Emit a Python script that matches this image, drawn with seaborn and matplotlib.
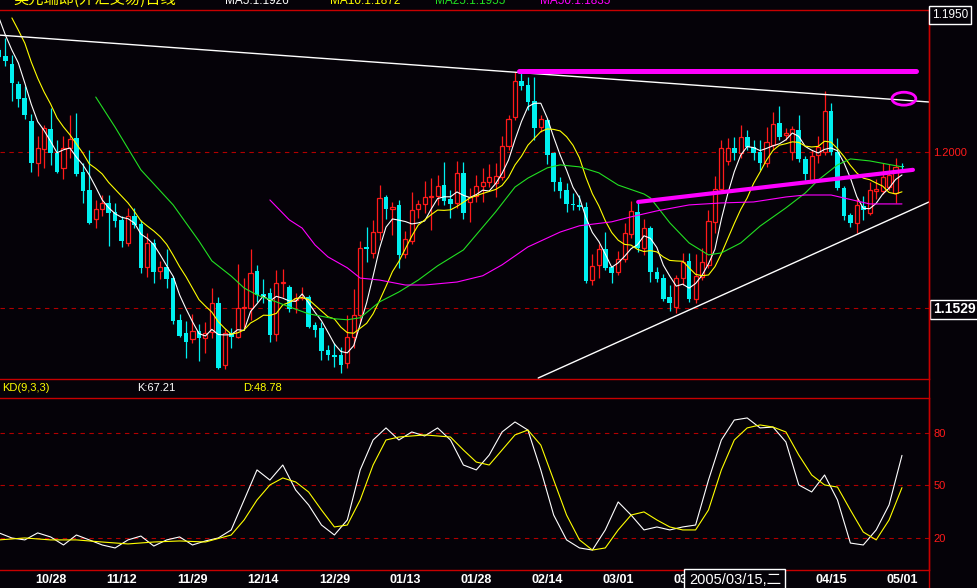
import numpy as np
import pandas as pd
import seaborn as sns
import matplotlib.pyplot as plt
from matplotlib.patches import Ellipse
from matplotlib.lines import Line2D

# USD/CHF daily bars, 2004-10-18 .. 2005-05-01
opens = [1.2308, 1.2290, 1.2266, 1.2205, 1.2163, 1.2094, 1.1967, 1.2009, 1.2069, 1.1997,
         1.1952, 1.2012, 1.2042, 1.1940, 1.1885, 1.1798, 1.1828, 1.1846, 1.1819, 1.1795,
         1.1725, 1.1807, 1.1783, 1.1653, 1.1725, 1.1641, 1.1653, 1.1619, 1.1493, 1.1453,
         1.1435, 1.1459, 1.1438, 1.1456, 1.1544, 1.1357, 1.1453, 1.1441, 1.1529, 1.1529,
         1.1641, 1.1571, 1.1574, 1.1450, 1.1604, 1.1592, 1.1553, 1.1559, 1.1562, 1.1477,
         1.1468, 1.1402, 1.1387, 1.1387, 1.1363, 1.1441, 1.1508, 1.1713, 1.1695, 1.1758,
         1.1864, 1.1828, 1.1840, 1.1692, 1.1731, 1.1828, 1.1843, 1.1864, 1.1867, 1.1900,
         1.1858, 1.1846, 1.1937, 1.1849, 1.1867, 1.1897, 1.1909, 1.1906, 1.1924, 1.2018,
         1.2106, 1.2214, 1.2202, 1.2154, 1.2076, 1.2097, 1.1997, 1.1909, 1.1885, 1.1843,
         1.1840, 1.1834, 1.1613, 1.1659, 1.1707, 1.1653, 1.1638, 1.1677, 1.1752, 1.1819,
         1.1710, 1.1770, 1.1638, 1.1619, 1.1562, 1.1532, 1.1619, 1.1671, 1.1556, 1.1623,
         1.1659, 1.1789, 1.1888, 1.1973, 1.2012, 1.1997, 1.2045, 1.2015, 1.2000, 1.1967,
         1.2021, 1.2088, 1.2051, 1.2000, 1.2066, 1.1979, 1.1912, 1.1991, 1.2000, 1.2124,
         1.2000, 1.1891, 1.1810, 1.1786, 1.1837, 1.1816, 1.1882, 1.1882, 1.1894, 1.1876,
         1.1958]
highs = [1.2314, 1.2344, 1.2293, 1.2214, 1.2199, 1.2115, 1.2048, 1.2082, 1.2133, 1.2036,
         1.2048, 1.2112, 1.2118, 1.1967, 1.2006, 1.1855, 1.1870, 1.1870, 1.1846, 1.1807,
         1.1831, 1.1831, 1.1795, 1.1755, 1.1737, 1.1671, 1.1707, 1.1626, 1.1511, 1.1490,
         1.1511, 1.1481, 1.1487, 1.1589, 1.1562, 1.1465, 1.1468, 1.1662, 1.1619, 1.1707,
         1.1659, 1.1616, 1.1589, 1.1644, 1.1647, 1.1598, 1.1574, 1.1592, 1.1568, 1.1487,
         1.1487, 1.1417, 1.1423, 1.1411, 1.1508, 1.1586, 1.1731, 1.1773, 1.1795, 1.1900,
         1.1870, 1.1849, 1.1855, 1.1761, 1.1879, 1.1855, 1.1912, 1.1921, 1.1931, 1.1970,
         1.1885, 1.1973, 1.1970, 1.1891, 1.1931, 1.1952, 1.1964, 1.1967, 1.2048, 1.2112,
         1.2242, 1.2242, 1.2226, 1.2226, 1.2112, 1.2103, 1.2000, 1.1924, 1.1906, 1.1876,
         1.1870, 1.1849, 1.1692, 1.1722, 1.1758, 1.1656, 1.1701, 1.1786, 1.1852, 1.1849,
         1.1798, 1.1777, 1.1653, 1.1632, 1.1598, 1.1629, 1.1695, 1.1695, 1.1692, 1.1710,
         1.1825, 1.1928, 1.2036, 1.2042, 1.2045, 1.2082, 1.2066, 1.2036, 1.2036, 1.2076,
         1.2121, 1.2139, 1.2072, 1.2079, 1.2112, 1.1988, 1.2006, 1.2048, 1.2184, 1.2148,
         1.2042, 1.1897, 1.1816, 1.1861, 1.1867, 1.1909, 1.1918, 1.1967, 1.1964, 1.1982,
         1.1967]
lows = [1.2284, 1.2260, 1.2154, 1.2136, 1.2100, 1.1940, 1.1928, 1.1952, 1.1961, 1.1937,
        1.1918, 1.1982, 1.1928, 1.1846, 1.1783, 1.1770, 1.1807, 1.1716, 1.1773, 1.1713,
        1.1716, 1.1770, 1.1635, 1.1623, 1.1604, 1.1616, 1.1589, 1.1481, 1.1441, 1.1378,
        1.1423, 1.1369, 1.1393, 1.1438, 1.1345, 1.1345, 1.1408, 1.1438, 1.1468, 1.1493,
        1.1547, 1.1544, 1.1426, 1.1429, 1.1562, 1.1517, 1.1514, 1.1553, 1.1468, 1.1441,
        1.1372, 1.1372, 1.1351, 1.1333, 1.1348, 1.1408, 1.1487, 1.1668, 1.1680, 1.1734,
        1.1798, 1.1749, 1.1650, 1.1680, 1.1722, 1.1801, 1.1816, 1.1764, 1.1840, 1.1840,
        1.1801, 1.1831, 1.1798, 1.1789, 1.1849, 1.1849, 1.1894, 1.1864, 1.1915, 1.2006,
        1.2097, 1.2187, 1.2127, 1.2036, 1.2060, 1.1964, 1.1882, 1.1861, 1.1819, 1.1825,
        1.1825, 1.1604, 1.1598, 1.1619, 1.1644, 1.1604, 1.1629, 1.1668, 1.1740, 1.1698,
        1.1689, 1.1607, 1.1607, 1.1550, 1.1520, 1.1514, 1.1598, 1.1547, 1.1544, 1.1613,
        1.1650, 1.1755, 1.1879, 1.1961, 1.1976, 1.1982, 1.2006, 1.1976, 1.1946, 1.1955,
        1.2006, 1.2036, 1.2036, 1.1976, 1.1970, 1.1915, 1.1906, 1.1967, 1.1991, 1.1991,
        1.1885, 1.1795, 1.1773, 1.1755, 1.1795, 1.1810, 1.1858, 1.1873, 1.1885, 1.1846,
        1.1946]
closes = [1.2287, 1.2275, 1.2208, 1.2160, 1.2112, 1.1967, 1.2012, 1.2072, 1.1997, 1.1940,
          1.2012, 1.2039, 1.1934, 1.1882, 1.1786, 1.1828, 1.1846, 1.1816, 1.1792, 1.1731,
          1.1807, 1.1780, 1.1650, 1.1725, 1.1638, 1.1653, 1.1616, 1.1490, 1.1444, 1.1426,
          1.1459, 1.1438, 1.1453, 1.1544, 1.1348, 1.1453, 1.1441, 1.1529, 1.1532, 1.1635,
          1.1568, 1.1565, 1.1447, 1.1604, 1.1607, 1.1526, 1.1559, 1.1559, 1.1471, 1.1462,
          1.1399, 1.1387, 1.1381, 1.1357, 1.1441, 1.1508, 1.1710, 1.1707, 1.1758, 1.1861,
          1.1828, 1.1834, 1.1689, 1.1737, 1.1825, 1.1843, 1.1864, 1.1867, 1.1897, 1.1852,
          1.1843, 1.1937, 1.1816, 1.1864, 1.1897, 1.1909, 1.1924, 1.1928, 1.2018, 1.2100,
          1.2214, 1.2199, 1.2151, 1.2072, 1.2100, 1.1991, 1.1909, 1.1882, 1.1843, 1.1840,
          1.1834, 1.1610, 1.1656, 1.1707, 1.1650, 1.1635, 1.1677, 1.1755, 1.1822, 1.1710,
          1.1770, 1.1638, 1.1616, 1.1556, 1.1544, 1.1619, 1.1668, 1.1556, 1.1626, 1.1668,
          1.1792, 1.1888, 1.2012, 1.2012, 1.1997, 1.2045, 1.2015, 1.1997, 1.1967, 1.2030,
          1.2085, 1.2045, 1.2057, 1.2069, 1.1979, 1.1934, 1.1988, 1.2015, 1.2124, 1.2000,
          1.1891, 1.1807, 1.1786, 1.1840, 1.1825, 1.1885, 1.1888, 1.1924, 1.1931, 1.1955,
          1.1955]

# 03/31 sits completely under the cursor date box in the screenshot
date_ticks = [8, 19, 30, 41, 52, 63, 74, 85, 96, 107, 129, 140]
date_labels = ['10/28', '11/12', '11/29', '12/14', '12/29', '01/13', '01/28',
               '02/14', '03/01', '03/16', '04/15', '05/01']

# first MA5 / MA10 points, whose windows reach back before the first visible bar
ma5_head_idx = [0, 1, 2, 3]
ma5_head_val = [1.2405, 1.2353, 1.2308, 1.2269]
ma10_head_idx = [2, 3, 4, 5, 6, 7, 8]
ma10_head_val = [1.2405, 1.2368, 1.2329, 1.2272, 1.2223, 1.2181, 1.2145]

# MA25 / MA50 as drawn (their windows start before the first visible bar)
ma25_idx = [15, 18, 22, 27, 31, 33, 36, 38, 40, 43, 45, 48, 52, 54, 56, 59, 62, 65, 68, 72,
            77, 80, 82, 85, 87, 90, 93, 96, 100, 101, 104, 107, 110, 112, 115, 118, 122, 125,
            127, 130, 132, 135, 140]
ma25_val = [1.2166, 1.2075, 1.1946, 1.1840, 1.1731, 1.1671, 1.1625, 1.1589, 1.1568, 1.1547,
            1.1532, 1.1511, 1.1496, 1.1493, 1.1499, 1.1547, 1.1577, 1.1613, 1.1656, 1.1704,
            1.1819, 1.1894, 1.1921, 1.1952, 1.1961, 1.1955, 1.1937, 1.1900, 1.1873, 1.1861,
            1.1786, 1.1725, 1.1689, 1.1695, 1.1725, 1.1776, 1.1831, 1.1876, 1.1915, 1.1961,
            1.1979, 1.1973, 1.1955]
ma50_idx = [42, 45, 47, 49, 51, 54, 56, 59, 63, 66, 71, 75, 78, 82, 87, 90, 95, 98, 102, 107,
            112, 117, 122, 125, 129, 131, 135, 140]
ma50_val = [1.1855, 1.1795, 1.1770, 1.1719, 1.1683, 1.1650, 1.1619, 1.1613, 1.1598, 1.1598,
            1.1607, 1.1626, 1.1659, 1.1713, 1.1758, 1.1777, 1.1789, 1.1804, 1.1822, 1.1840,
            1.1846, 1.1849, 1.1864, 1.1870, 1.1870, 1.1861, 1.1843, 1.1843]

# KD(9,3,3)
k_idx = list(range(0, 141, 2))
k_val = [22.9, 20.0, 18.9, 22.9, 20.6, 16.0, 21.7, 18.9, 16.0, 14.3,
         18.9, 21.1, 15.4, 18.9, 20.6, 16.0, 18.3, 20.0, 24.6, 41.7,
         58.9, 53.1, 61.7, 47.4, 38.9, 27.4, 21.7, 30.3, 58.9, 76.0,
         82.9, 76.0, 80.6, 78.3, 82.9, 76.0, 61.7, 58.9, 67.4, 80.6,
         86.3, 81.7, 58.9, 33.1, 18.9, 14.3, 13.1, 24.6, 40.6, 33.1,
         24.6, 26.3, 24.6, 26.3, 27.4, 53.1, 76.0, 87.4, 88.6, 82.9,
         83.4, 74.9, 50.3, 46.3, 56.0, 41.7, 17.1, 16.0, 24.6, 38.9,
         67.21]
d_idx = [0, 4, 8, 12, 16, 20, 24, 28, 32, 36, 38, 40, 42, 44, 46, 48, 50, 52, 54, 56, 58,
         60, 62, 66, 70] + list(range(72, 141, 2))
d_val = [18.9, 20.0, 18.9, 18.9, 17.7, 16.6, 17.7, 18.3, 17.7, 21.7,
         30.3, 41.7, 50.3, 54.3, 52.0, 46.3, 36.0, 26.3, 27.4, 41.7, 61.7,
         76.0, 77.7, 78.9, 77.7,
         70.3, 63.4, 61.7, 70.3, 78.9, 81.7, 73.1, 53.1, 33.1, 18.9,
         13.1, 14.3, 24.6, 33.1, 34.9, 30.3, 26.3, 24.6, 24.6, 36.0,
         58.9, 76.0, 82.9, 84.6, 83.4, 80.6, 67.4, 56.0, 50.3, 49.1,
         36.0, 23.4, 18.9, 30.3, 48.78]

# hand-drawn trend lines (bar index, price)
resist_x, resist_y = [0.16, 144.2], [1.2353, 1.2151]
support_x, support_y = [83.6, 144.2], [1.1317, 1.1849]
top_x, top_y = [80.6, 142.2], [1.2245, 1.2245]
neck_x, neck_y = [99.1, 141.7], [1.1849, 1.1946]
ring_center = (140.3, 1.2161)

BG = '#050208'
UP = '#ff1a1a'
DOWN = '#00f0f0'
AXIS = '#c80000'
GRID = '#b00000'
YEL = '#ffff00'
GRN = '#22e022'
MAG = '#ff00ff'

sns.set_style('dark', {'axes.facecolor': BG, 'figure.facecolor': BG, 'axes.grid': False})
plt.rcParams['font.family'] = ['Liberation Sans', 'Noto Sans CJK SC']

df = pd.DataFrame({'open': opens, 'high': highs, 'low': lows, 'close': closes})
df['bar'] = np.arange(len(df))
df['ma5'] = df['close'].rolling(5).mean()
df['ma10'] = df['close'].rolling(10).mean()
df.loc[ma5_head_idx, 'ma5'] = ma5_head_val
df.loc[ma10_head_idx, 'ma10'] = ma10_head_val

fig = plt.figure(figsize=(9.78, 5.88), dpi=100)
W = 929 / 978
ax = fig.add_axes([0, 1 - 379 / 588, W, 369 / 588])
kd = fig.add_axes([0, 1 - 570 / 588, W, 172 / 588], sharex=ax)

# dashed level lines
for lvl in (1.2000, 1.1529):
    ax.axhline(lvl, color=GRID, lw=0.8, ls=(0, (4, 4)), zorder=0.5)
for lvl in (20, 50, 80):
    kd.axhline(lvl, color=GRID, lw=0.8, ls=(0, (4, 4)), zorder=0.5)

# candles
up = df[df['close'] >= df['open']]
dn = df[df['close'] < df['open']]
ax.vlines(dn['bar'], dn['low'], dn['high'], color=DOWN, lw=0.9, zorder=2)
ax.bar(dn['bar'], dn['close'] - dn['open'], bottom=dn['open'], width=0.72,
       color=DOWN, lw=0, zorder=2)
ax.vlines(up['bar'], up['close'], up['high'], color=UP, lw=0.9, zorder=2)
ax.vlines(up['bar'], up['low'], up['open'], color=UP, lw=0.9, zorder=2)
ax.bar(up['bar'], up['close'] - up['open'], bottom=up['open'], width=0.64,
       facecolor=BG, edgecolor=UP, lw=0.9, zorder=2)

# moving averages
sns.lineplot(data=df, x='bar', y='ma5', ax=ax, color='white', lw=0.8, legend=False, zorder=3)
sns.lineplot(data=df, x='bar', y='ma10', ax=ax, color=YEL, lw=0.8, legend=False, zorder=3)
sns.lineplot(x=ma25_idx, y=ma25_val, ax=ax, color=GRN, lw=0.8, legend=False, zorder=3)
sns.lineplot(x=ma50_idx, y=ma50_val, ax=ax, color=MAG, lw=0.8, legend=False, zorder=3)

# trend lines
ax.plot(resist_x, resist_y, color='white', lw=1.0, zorder=4)
ax.plot(support_x, support_y, color='white', lw=1.0, zorder=4)
ax.plot(top_x, top_y, color=MAG, lw=3.6, solid_capstyle='round', zorder=4)
ax.plot(neck_x, neck_y, color=MAG, lw=3.0, solid_capstyle='round', zorder=4)
ax.add_patch(Ellipse(ring_center, 3.7, 0.0039, fill=False, ec=MAG, lw=2.0, zorder=4))

# KD lines
sns.lineplot(x=k_idx, y=k_val, ax=kd, color='white', lw=0.8, legend=False, zorder=3)
sns.lineplot(x=d_idx, y=d_val, ax=kd, color=YEL, lw=0.8, legend=False, zorder=3)

ax.set_xlim(0.155, 144.19)
ax.set_ylim(1.1314, 1.2429)
kd.set_ylim(1.7, 100)

for a in (ax, kd):
    a.set_xlabel('')
    a.set_ylabel('')
    a.spines['left'].set_visible(False)
    for s in ('top', 'bottom', 'right'):
        a.spines[s].set_color(AXIS)
        a.spines[s].set_linewidth(1.0)
    a.yaxis.tick_right()

ax.set_yticks([1.1529, 1.2000])
ax.set_yticklabels(['1.1529', '1.2000'])
ax.tick_params(axis='y', length=0, pad=3, labelsize=8, labelcolor=UP)
ax.tick_params(axis='x', length=0, labelbottom=False)
lab = ax.get_yticklabels()
lab[0].set_color('white')
lab[0].set_fontweight('bold')
lab[0].set_fontsize(10)
lab[0].set_bbox(dict(boxstyle='square,pad=0.2', fc=BG, ec='white', lw=1))

kd.set_yticks([20, 50, 80])
kd.set_yticklabels(['20', '50', '80'])
kd.tick_params(axis='y', length=0, pad=3, labelsize=8, labelcolor=UP)
kd.set_xticks(date_ticks)
kd.set_xticklabels(date_labels)
kd.tick_params(axis='x', length=0, pad=3, labelsize=9, labelcolor='white')
for t in kd.get_xticklabels():
    t.set_fontweight('bold')

# right axis line running through the label strip
fig.add_artist(Line2D([W, W], [0, 1 - 10 / 588], color=AXIS, lw=1.0, transform=fig.transFigure))

# header (clipped at top of the screen grab)
hy = 1 - 4 / 588
fig.text(13 / 978, hy, '美元瑞郎(外汇交易)日线', color=YEL, fontsize=11, va='baseline',
         family=['Noto Sans CJK SC', 'DejaVu Sans'])
fig.text(225 / 978, hy, 'MA5:1.1926', color='white', fontsize=8.5, va='baseline')
fig.text(330 / 978, hy, 'MA10:1.1872', color=YEL, fontsize=8.5, va='baseline')
fig.text(435 / 978, hy, 'MA25:1.1955', color=GRN, fontsize=8.5, va='baseline')
fig.text(540 / 978, hy, 'MA50:1.1835', color=MAG, fontsize=8.5, va='baseline')

fig.text(932 / 978, 1 - 15 / 588, '1.1950', color='white', fontsize=8.5, va='center',
         bbox=dict(boxstyle='square,pad=0.25', fc=BG, ec='white', lw=1))

# KD label strip
fig.text(2 / 978, 1 - 388 / 588, 'KD(9,3,3)', color=YEL, fontsize=8, va='center')
fig.text(137 / 978, 1 - 388 / 588, 'K:67.21', color='white', fontsize=8, va='center')
fig.text(243 / 978, 1 - 388 / 588, 'D:48.78', color=YEL, fontsize=8, va='center')

# cursor date box
fig.text(735 / 978, 1 - 580 / 588, '2005/03/15,二', color='white', fontsize=10.5,
         ha='center', va='center', family=['Liberation Sans', 'Noto Sans CJK SC'],
         bbox=dict(boxstyle='square,pad=0.3', fc=BG, ec='white', lw=1))

fig.savefig('out.png', dpi=100, facecolor=BG)
